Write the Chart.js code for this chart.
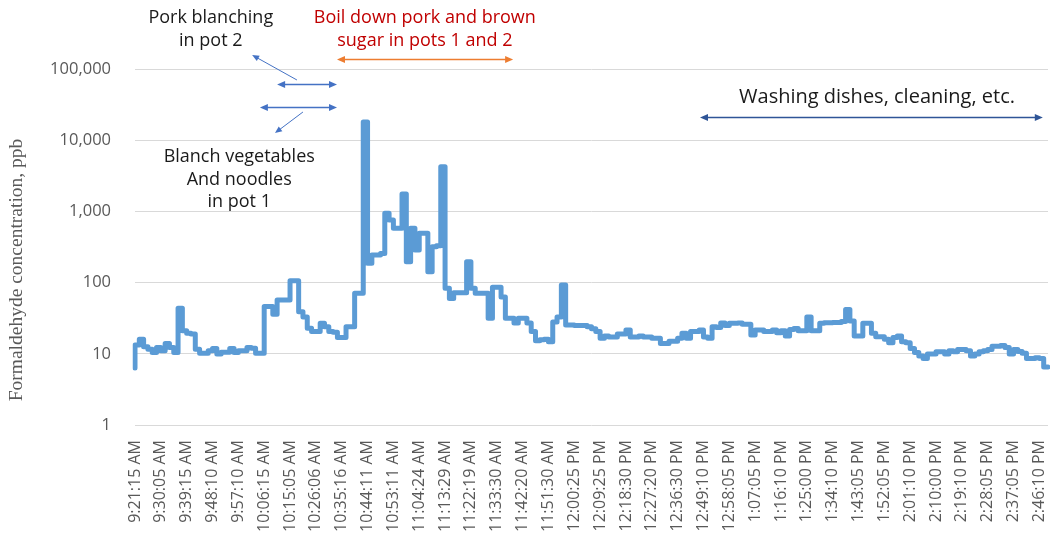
<!DOCTYPE html>
<html>
<head>
<meta charset="utf-8">
<script src="https://cdn.jsdelivr.net/npm/chart.js@4.4.1/dist/chart.umd.min.js"></script>
<style>
  html, body { margin: 0; padding: 0; background: #fff; }
  #wrap { width: 1050px; height: 539px; position: relative; }
</style>
</head>
<body>
<div id="wrap"><canvas id="c" width="1050" height="539"></canvas></div>
<script>
// Axis labels shown every SAMPLES_PER_LABEL samples
const timeLabels = [
  '9:21:15 AM', '9:30:05 AM', '9:39:15 AM', '9:48:10 AM', '9:57:10 AM',
  '10:06:15 AM', '10:15:05 AM', '10:26:06 AM', '10:35:16 AM', '10:44:11 AM',
  '10:53:11 AM', '11:04:24 AM', '11:13:29 AM', '11:22:19 AM', '11:33:30 AM',
  '11:42:20 AM', '11:51:30 AM', '12:00:25 PM', '12:09:25 PM', '12:18:30 PM',
  '12:27:20 PM', '12:36:30 PM', '12:49:10 PM', '12:58:05 PM', '1:07:05 PM',
  '1:16:10 PM', '1:25:00 PM', '1:34:10 PM', '1:43:05 PM', '1:52:05 PM',
  '2:01:10 PM', '2:10:00 PM', '2:19:10 PM', '2:28:05 PM', '2:37:05 PM',
  '2:46:10 PM'
];
const SAMPLES_PER_LABEL = 6;

// Formaldehyde concentration (ppb), one value per sample
const concentration = [
  6.3, 13.3, 16, 12.6, 11.6, 10.4, 12.3, 11, 14, 12.3,
  10.4, 43.5, 21, 19.4, 19, 11.6, 10.2, 10.2, 11, 11.9,
  9.9, 10.5, 10.5, 11.9, 10.4, 11, 11, 12.3, 12, 10.2,
  10.2, 46, 46, 36, 57, 57, 57, 106, 106, 39,
  33, 22.8, 20.5, 20.5, 26.8, 24, 20.5, 20, 17, 17,
  24, 24, 70.8, 70.8, 18000, 187, 244, 244, 257, 940,
  757, 578, 578, 1755, 197, 578, 287, 492, 492, 142,
  319, 330, 4250, 83, 60, 72, 72, 72, 197, 83,
  70.8, 70.8, 70.8, 31.5, 86, 86, 63, 31.5, 31.5, 27,
  31.5, 31.5, 27, 20.5, 15.3, 15.8, 16, 14.8, 28, 33,
  92.5, 25.4, 25.4, 25, 25, 25, 24, 22.5, 20.5, 16.5,
  17.8, 17.2, 17.2, 19, 19, 21.6, 17.2, 17.2, 17.8, 17.2,
  17.2, 16.5, 16.5, 14, 14, 15, 15, 16.5, 19.4, 16.5,
  20.5, 20.5, 21.6, 17.2, 16.5, 24, 23.5, 27, 25, 26.8,
  26.8, 27, 26, 26, 18.4, 21.6, 21.6, 20.5, 20.5, 21.6,
  19.8, 21, 17.8, 22, 22.7, 21, 21, 33, 21, 21,
  26.8, 27.3, 27.3, 27.5, 27.5, 28.5, 42, 29, 17.8, 17.8,
  26.8, 26.8, 19.5, 17.4, 17.4, 16, 14.3, 17, 17.8, 14.8,
  14.3, 11.9, 10.4, 9.3, 8.6, 9.9, 9.9, 10.7, 10.7, 9.9,
  11, 10.7, 11.5, 11.5, 11, 9.3, 9.9, 10.7, 11, 11.5,
  12.8, 12.8, 13.1, 12.3, 9.9, 11.5, 10.8, 10.2, 8.6, 8.6,
  8.8, 8.6, 6.5
];

// Decade ticks of the log axis
const yTicks = [1, 10, 100, 1000, 10000, 100000];

// Activity notes, anchored in data units (sample index, ppb)
const noteTexts = [
  { lines: ['Pork blanching', 'in pot 2'], x: 17.6, y: 520000, color: '#1a1a1a', size: 18 },
  { lines: ['Boil down pork and brown', 'sugar in pots 1 and 2'], x: 67.3, y: 520000, color: '#C00000', size: 18 },
  { lines: ['Blanch vegetables', 'And noodles', 'in pot 1'], x: 24.2, y: 5810, color: '#1a1a1a', size: 18 },
  { lines: ['Washing dishes, cleaning, etc.'], x: 172.3, y: 40400, color: '#1a1a1a', size: 20 }
];
const spanArrows = [
  { from: 46.9, to: 87.8, y: 138000, color: '#ED7D31' },
  { from: 33.0, to: 46.9, y: 61500, color: '#4472C4' },
  { from: 29.0, to: 46.9, y: 29300, color: '#4472C4' },
  { from: 131.2, to: 210.8, y: 21200, color: '#2F5597' }
];
const pointerArrows = [
  { x1: 37.6, y1: 70100, x2: 27.2, y2: 157000, color: '#4472C4' },
  { x1: 39.0, y1: 24900, x2: 32.5, y2: 12600, color: '#4472C4' }
];
const yTitle = 'Formaldehyde concentration, ppb';

const sampleLabels = concentration.map((_, i) =>
  i % SAMPLES_PER_LABEL === 0 && timeLabels[i / SAMPLES_PER_LABEL] ? timeLabels[i / SAMPLES_PER_LABEL] : '');

const UI_FONT = '"Open Sans", "Noto Sans", sans-serif';

function arrowHead(ctx, x, y, ang, len, half) {
  ctx.beginPath();
  ctx.moveTo(x, y);
  ctx.lineTo(x - len * Math.cos(ang) + half * Math.sin(ang), y - len * Math.sin(ang) - half * Math.cos(ang));
  ctx.lineTo(x - len * Math.cos(ang) - half * Math.sin(ang), y - len * Math.sin(ang) + half * Math.cos(ang));
  ctx.closePath();
  ctx.fill();
}

const notesPlugin = {
  id: 'notes',
  afterDraw(chart) {
    const { ctx, chartArea } = chart;
    const xs = chart.scales.x, ys = chart.scales.y;
    ctx.save();
    // vertical axis title
    ctx.save();
    ctx.translate(chartArea.left - 118, (chartArea.top + chartArea.bottom) / 2 + 23);
    ctx.rotate(-Math.PI / 2);
    ctx.font = '19.5px "Liberation Serif", "Times New Roman", serif';
    ctx.fillStyle = '#595959';
    ctx.textAlign = 'center';
    ctx.textBaseline = 'middle';
    ctx.fillText(yTitle, 0, 0);
    ctx.restore();
    // double-headed span arrows
    spanArrows.forEach(a => {
      const x1 = xs.getPixelForValue(a.from), x2 = xs.getPixelForValue(a.to);
      const y = Math.round(ys.getPixelForValue(a.y)) + 0.5;
      ctx.strokeStyle = a.color; ctx.fillStyle = a.color; ctx.lineWidth = 1.6;
      ctx.beginPath(); ctx.moveTo(x1 + 4, y); ctx.lineTo(x2 - 4, y); ctx.stroke();
      arrowHead(ctx, x2, y, 0, 8, 3.5);
      arrowHead(ctx, x1, y, Math.PI, 8, 3.5);
    });
    // leader arrows pointing at the notes
    pointerArrows.forEach(a => {
      const x1 = xs.getPixelForValue(a.x1), y1 = ys.getPixelForValue(a.y1);
      const x2 = xs.getPixelForValue(a.x2), y2 = ys.getPixelForValue(a.y2);
      const ang = Math.atan2(y2 - y1, x2 - x1);
      ctx.strokeStyle = a.color; ctx.fillStyle = a.color; ctx.lineWidth = 1;
      ctx.beginPath(); ctx.moveTo(x1, y1);
      ctx.lineTo(x2 - 5 * Math.cos(ang), y2 - 5 * Math.sin(ang)); ctx.stroke();
      arrowHead(ctx, x2, y2, ang, 7, 3);
    });
    // note texts
    ctx.textAlign = 'center';
    ctx.textBaseline = 'middle';
    noteTexts.forEach(n => {
      const x = xs.getPixelForValue(n.x), y = ys.getPixelForValue(n.y);
      ctx.font = n.size + 'px ' + UI_FONT;
      ctx.fillStyle = n.color;
      n.lines.forEach((t, k) => ctx.fillText(t, x, y + k * 22.5));
    });
    ctx.restore();
  }
};

new Chart(document.getElementById('c'), {
  type: 'line',
  data: {
    labels: sampleLabels,
    datasets: [{
      data: concentration,
      borderColor: '#5B9BD5',
      borderWidth: 5,
      borderJoinStyle: 'round',
      borderCapStyle: 'round',
      pointRadius: 0,
      stepped: 'after',
      fill: false
    }]
  },
  options: {
    responsive: false,
    animation: false,
    events: [],
    layout: { padding: { top: 69, right: 2, bottom: 0, left: 0 } },
    plugins: { legend: { display: false }, tooltip: { enabled: false } },
    scales: {
      x: {
        type: 'category',
        offset: false,
        grid: { display: false, drawTicks: false },
        border: { display: false },
        ticks: {
          autoSkip: false,
          minRotation: 90,
          maxRotation: 90,
          padding: 15,
          color: '#595959',
          font: { family: UI_FONT, size: 16 },
          callback: (v, i) => sampleLabels[i]
        },
        afterFit: s => { s.height = 114; s.paddingLeft = 0; s.paddingRight = 0; }
      },
      y: {
        type: 'logarithmic',
        min: 1,
        max: 100000,
        afterBuildTicks: s => { s.ticks = yTicks.map(v => ({ value: v })); },
        afterFit: s => { s.width = 135; s.paddingTop = 0; s.paddingBottom = 0; },
        grid: { color: '#D9D9D9', lineWidth: 1, drawTicks: false },
        border: { display: false },
        ticks: {
          padding: 24,
          color: '#595959',
          font: { family: UI_FONT, size: 16.5 },
          callback: v => Number(v).toLocaleString('en-US')
        }
      }
    }
  },
  plugins: [notesPlugin]
});
</script>
</body>
</html>
